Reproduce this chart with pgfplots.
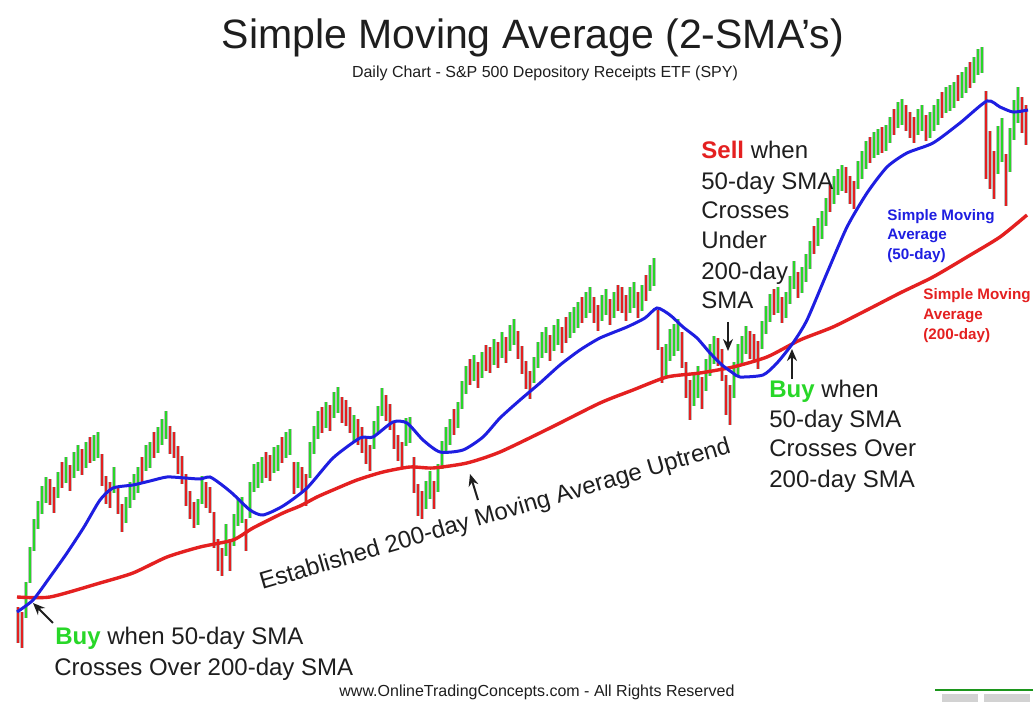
\documentclass[border=0pt]{standalone}
\usepackage{fontspec}
\setmainfont{Liberation Sans}
\usepackage{pgfplots}
\usepackage{pgfplotstable}
\pgfplotsset{compat=1.18}
\usetikzlibrary{arrows.meta}
\definecolor{mygreen}{RGB}{40,215,40}
\definecolor{myred}{RGB}{228,32,32}
\definecolor{myblue}{RGB}{30,30,225}
\definecolor{txt}{RGB}{30,30,30}
\pgfplotstableread{
x y h c
18 625 14 0
22 630 14 0
26 600 14 1
30 565 14 1
34 535 12 1
38 515 10 1
42 500 10 1
46 490 9 1
50 492 9 0
54 500 9 0
58 485 9 1
62 475 9 0
66 470 9 1
70 478 9 0
74 465 9 1
78 458 9 1
82 462 9 0
86 455 9 1
90 450 9 0
94 448 9 1
98 445 9 1
102 470 12 0
106 490 10 0
110 495 9 0
114 480 9 1
118 500 10 0
122 518 10 0
126 510 9 1
130 495 9 1
134 487 9 1
138 480 9 1
142 470 9 0
146 458 9 1
150 455 9 1
154 445 9 0
158 440 9 1
162 432 9 1
166 425 10 1
170 440 10 0
174 445 9 0
178 460 10 0
182 470 10 0
186 490 12 0
190 505 10 0
194 515 9 0
198 512 9 1
202 490 10 1
206 495 9 0
210 500 9 0
214 530 14 0
218 555 12 0
222 562 10 0
226 540 12 1
230 555 12 0
234 530 12 1
238 512 10 1
242 510 9 1
246 535 12 0
250 500 14 1
254 478 10 1
258 475 9 1
262 470 9 1
266 465 9 0
270 468 9 0
274 460 9 1
278 458 9 1
282 450 9 0
286 445 9 1
290 442 9 1
294 478 12 0
298 475 9 1
302 480 9 0
306 490 12 0
310 460 14 1
314 440 10 1
318 425 10 1
322 420 9 0
326 415 9 1
330 418 9 0
334 405 9 1
338 400 9 1
342 410 9 0
346 413 9 0
350 420 9 0
354 428 9 1
358 432 9 0
362 440 9 0
366 450 10 0
370 458 9 0
374 435 10 1
378 420 10 1
382 402 10 1
386 408 9 0
390 417 9 0
394 435 10 0
398 448 9 0
402 455 9 0
406 432 10 1
410 430 9 1
414 475 14 0
418 500 12 0
422 505 10 0
426 495 10 1
430 485 10 1
434 495 10 0
438 478 10 1
442 455 10 1
446 440 9 1
450 432 9 1
454 422 9 0
458 415 9 1
462 395 10 1
466 380 10 1
470 372 9 0
474 368 9 1
478 375 9 0
482 365 9 1
486 358 9 0
490 360 9 0
494 352 9 1
498 355 9 0
502 345 9 1
506 350 9 0
510 338 9 1
514 332 9 1
518 345 10 0
522 360 10 0
526 375 10 0
530 385 10 0
534 370 9 1
538 355 9 1
542 345 9 1
546 340 9 1
550 348 9 0
554 338 9 1
558 332 9 1
562 340 9 0
566 330 9 0
570 325 9 1
574 320 9 1
578 315 9 1
582 310 9 0
586 305 9 1
590 300 9 1
594 310 9 0
598 318 9 0
602 308 9 1
606 302 9 1
610 312 9 0
614 305 9 1
618 298 9 0
622 300 9 0
626 308 9 0
630 300 9 1
634 295 9 1
638 305 9 0
642 298 9 1
646 288 9 0
650 278 9 1
654 272 10 1
658 330 16 0
662 365 14 0
666 360 12 1
670 345 12 1
674 340 12 1
678 335 12 1
682 350 14 0
686 380 14 0
690 400 16 0
694 390 12 1
698 382 12 1
702 393 12 0
706 375 12 1
710 360 12 1
714 350 10 1
718 352 10 0
722 365 12 0
726 395 16 0
730 405 16 0
734 380 14 1
738 360 12 1
742 350 10 1
746 340 10 1
750 345 10 0
754 348 10 0
758 355 10 0
762 335 10 1
766 320 10 1
770 308 10 1
774 302 9 0
778 300 9 1
782 310 9 0
786 305 9 1
790 290 10 1
794 275 10 1
798 285 9 0
802 280 9 1
806 268 10 1
810 255 10 1
814 240 10 0
818 232 10 1
822 225 10 1
826 212 10 1
830 198 10 0
834 190 10 1
838 182 9 1
842 178 9 1
846 180 9 0
850 190 10 0
854 195 10 0
858 175 10 1
862 165 10 1
866 155 10 1
870 150 9 0
874 145 9 1
878 142 9 1
882 140 9 0
886 138 9 1
890 130 9 1
894 122 9 0
898 115 9 1
902 112 9 1
906 118 9 0
910 125 9 0
914 130 9 0
918 122 9 1
922 118 9 1
926 128 9 0
930 125 9 1
934 118 9 1
938 112 9 1
942 105 9 0
946 100 9 1
950 98 9 1
954 95 9 1
958 88 9 0
962 85 9 1
966 80 9 1
970 75 9 0
974 70 9 1
978 62 9 1
982 60 9 1
986 135 40 0
990 160 25 0
994 175 20 0
998 150 20 1
1002 140 18 1
1006 180 22 0
1010 150 18 1
1014 120 16 1
1018 105 14 1
1022 115 14 0
1026 125 16 0
}\bars
\begin{document}
\begin{tikzpicture}
\begin{axis}[
  width=517.5pt, height=352.5pt, scale only axis,
  xmin=0, xmax=1035, ymin=0, ymax=705, y dir=reverse,
  hide axis, clip=false,
]
\fill[white] (axis cs:0,0) rectangle (axis cs:1035,705);
% price bars: grey shadow, then colour
\addplot[draw=none, mark=none,
  error bars/.cd, y dir=both, y explicit, error mark=none,
  error bar style={line width=1.9pt, draw=gray!50}]
  table[x=x, y=y, y error expr={\thisrow{h}+4}] {\bars};
\addplot[draw=none, mark=none,
  restrict expr to domain={\thisrow{c}}{0.5:1.5},
  error bars/.cd, y dir=both, y explicit, error mark=none,
  error bar style={line width=1.1pt, draw=mygreen}]
  table[x=x, y=y, y error expr={\thisrow{h}+4}] {\bars};
\addplot[draw=none, mark=none,
  restrict expr to domain={\thisrow{c}}{-0.5:0.5},
  error bars/.cd, y dir=both, y explicit, error mark=none,
  error bar style={line width=1.1pt, draw=myred}]
  table[x=x, y=y, y error expr={\thisrow{h}+4}] {\bars};
% 200-day SMA
\addplot[myred, line width=1.7pt, smooth, tension=0.4, mark=none] coordinates {
(17,597) (50,597) (100,583) (133,573) (167,557) (200,547) (233,540) (253,528)
(283,513) (300,506) (317,497) (333,490) (357,480) (383,472) (410,467) (433,468)
(467,463) (500,452) (550,428) (600,403) (633,390) (667,377) (700,373) (733,367)
(767,357) (800,340) (833,327) (867,310) (900,293) (933,277) (967,257) (1000,237) (1027,215)};
% 50-day SMA
\addplot[myblue, line width=1.5pt, smooth, tension=0.4, mark=none] coordinates {
(17,612) (33,600) (50,577) (67,553) (84,527) (100,500) (113,488) (133,485) (150,481)
(167,477) (185,478) (200,479) (210,477) (222,485) (233,494) (250,510) (263,515)
(283,506) (307,488) (333,458) (360,438) (373,437) (393,422) (407,423) (423,440)
(440,452) (463,450) (483,437) (500,418) (520,400) (540,383) (560,365) (580,350)
(600,338) (627,327) (645,318) (657,308) (670,315) (683,327) (697,338) (710,353)
(722,365) (733,373) (740,377) (763,375) (777,363) (793,343) (807,320) (827,273)
(847,227) (867,193) (887,167) (907,153) (933,143) (960,123) (987,101) (1000,107)
(1013,112) (1028,110)};
% arrows
\draw[-{Stealth[length=6pt,width=5pt]}, line width=1pt, txt] (axis cs:53,623) -- (axis cs:33,603);
\draw[-{Stealth[length=6pt,width=5pt]}, line width=1pt, txt] (axis cs:728,322) -- (axis cs:728,351);
\draw[-{Stealth[length=6pt,width=5pt]}, line width=1pt, txt] (axis cs:792,379) -- (axis cs:792,349);
\draw[-{Stealth[length=6pt,width=5pt]}, line width=1pt, txt] (axis cs:478,500) -- (axis cs:470,474);
% titles
\node[anchor=base, inner sep=0pt, text=txt, font=\fontsize{20.5}{24}\selectfont] at (axis cs:533,49) {Simple Moving Average (2-SMA’s)};
\node[anchor=base, inner sep=0pt, text=txt, font=\fontsize{8}{10}\selectfont] at (axis cs:545,77.5) {Daily Chart - S\&P 500 Depository Receipts ETF (SPY)};
\node[anchor=base, inner sep=0pt, text=txt, font=\fontsize{8}{10}\selectfont] at (axis cs:537,697) {www.OnlineTradingConcepts.com - All Rights Reserved};
% annotation blocks
\begin{scope}[every node/.style={anchor=base west, inner sep=0pt, text=txt, font=\fontsize{12}{15}\selectfont}]
\node at (axis cs:701,159) {\textcolor{myred}{\bfseries Sell} when};
\node at (axis cs:701,190) {50-day SMA};
\node at (axis cs:701,219) {Crosses};
\node at (axis cs:701,249) {Under};
\node at (axis cs:701,280) {200-day};
\node at (axis cs:701,309) {SMA};
\node at (axis cs:769,398) {\textcolor{mygreen}{\bfseries Buy} when};
\node at (axis cs:769,428) {50-day SMA};
\node at (axis cs:769,457) {Crosses Over};
\node at (axis cs:769,488) {200-day SMA};
\node at (axis cs:55,645) {\textcolor{mygreen}{\bfseries Buy} when 50-day SMA};
\node at (axis cs:54,676) {Crosses Over 200-day SMA};
\node[rotate=16.3] at (axis cs:262,590) {Established 200-day Moving Average Uptrend};
\end{scope}
\begin{scope}[every node/.style={anchor=base west, inner sep=0pt, font=\bfseries\fontsize{7.6}{10}\selectfont}]
\node[text=myblue] at (axis cs:887,221) {Simple Moving};
\node[text=myblue] at (axis cs:887,240) {Average};
\node[text=myblue] at (axis cs:887,260) {(50-day)};
\node[text=myred] at (axis cs:923,300) {Simple Moving};
\node[text=myred] at (axis cs:923,320) {Average};
\node[text=myred] at (axis cs:923,340) {(200-day)};
\end{scope}
% corner logo
\draw[mygreen!70!black, line width=1pt] (axis cs:935,690) -- (axis cs:1033,690);
\fill[gray!35] (axis cs:942,694) rectangle (axis cs:978,702);
\fill[gray!35] (axis cs:984,694) rectangle (axis cs:1030,702);
\end{axis}
\end{tikzpicture}
\end{document}
